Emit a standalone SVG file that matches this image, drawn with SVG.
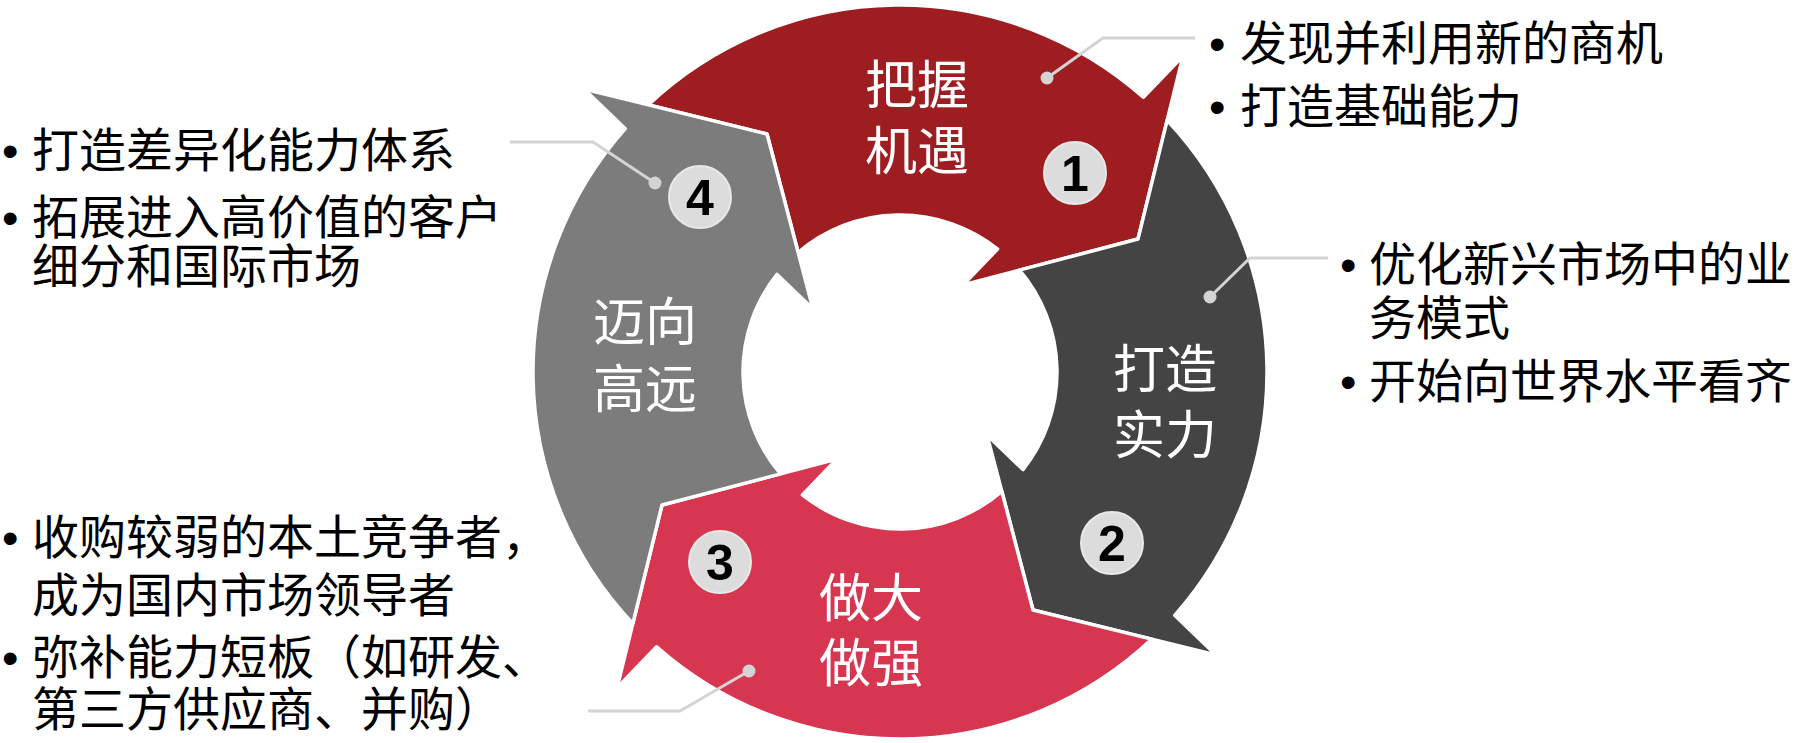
<svg xmlns="http://www.w3.org/2000/svg" width="1800" height="743" viewBox="0 0 1800 743">
<style>
.arw{stroke:#fff;stroke-width:3.5;stroke-linejoin:round}
.c1{fill:#9e1d21}.c2{fill:#444444}.c3{fill:#d73651}.c4{fill:#7c7c7c}
.lbl{font-family:"Noto Sans CJK SC","Noto Sans",sans-serif;font-size:52px;fill:#fff;text-anchor:middle}
.bd{fill:#dcdcdc;stroke:#e8e8e8;stroke-width:2}
.num{font-family:"Liberation Sans",Arial,sans-serif;font-weight:bold;font-size:50px;fill:#000;text-anchor:middle}
.txt{font-family:"Noto Sans CJK SC","Noto Sans",sans-serif;font-size:47px;fill:#000}
.bul{font-family:"Liberation Sans",Arial,sans-serif}
.ld{fill:none;stroke:#d4d4d4;stroke-width:3}
.dot{fill:#d4d4d4}
</style>
<defs>
<path id="arrow" d="M -251.62 -267.17 A 367 367 0 0 1 243.35 -274.72 L 283 -316 L 238 -133 L 63 -87 L 97.58 -122.99 A 157 157 0 0 0 -101.85 -119.48 L -133 -238 Z"/>
</defs>

<g id="node1">
<use href="#arrow" class="arw c1" transform="translate(900 372)"/>
</g>
<g id="node2">
<use href="#arrow" class="arw c2" transform="translate(900 372) rotate(90)"/>
</g>
<g id="node3">
<use href="#arrow" class="arw c3" transform="translate(900 372) rotate(180)"/>
</g>
<g id="node4">
<use href="#arrow" class="arw c4" transform="translate(900 372) rotate(270)"/>
</g>

<g id="connectors">
<polyline class="ld" points="1047,78 1103,38 1195,38"/>
<circle class="dot" cx="1047" cy="78" r="6.5"/>
<polyline class="ld" points="1210,297 1250,258 1328,258"/>
<circle class="dot" cx="1210" cy="297" r="6.5"/>
<polyline class="ld" points="749,671 680,711 588,711"/>
<circle class="dot" cx="749" cy="671" r="6.5"/>
<polyline class="ld" points="655,183 593,142 510,142"/>
<circle class="dot" cx="655" cy="183" r="6.5"/>
</g>

<g id="label1">
<text class="lbl" x="917" y="104">把握</text>
<text class="lbl" x="917" y="170">机遇</text>
<circle class="bd" cx="1075" cy="173" r="31"/>
<text class="num" x="1075" y="191">1</text>
</g>
<g id="label2">
<text class="lbl" x="1165" y="388">打造</text>
<text class="lbl" x="1165" y="454">实力</text>
<circle class="bd" cx="1112" cy="543" r="31"/>
<text class="num" x="1112" y="561">2</text>
</g>
<g id="label3">
<text class="lbl" x="871" y="617">做大</text>
<text class="lbl" x="871" y="682">做强</text>
<circle class="bd" cx="720" cy="562" r="31"/>
<text class="num" x="720" y="580">3</text>
</g>
<g id="label4">
<text class="lbl" x="645" y="341">迈向</text>
<text class="lbl" x="645" y="408">高远</text>
<circle class="bd" cx="700" cy="197" r="31"/>
<text class="num" x="700" y="215">4</text>
</g>

<g id="text1">
<text class="txt" y="60"><tspan class="bul" x="1209">•</tspan><tspan x="1240">发现并利用新的商机</tspan></text>
<text class="txt" y="123"><tspan class="bul" x="1209">•</tspan><tspan x="1240">打造基础能力</tspan></text>
</g>
<g id="text2">
<text class="txt" y="281"><tspan class="bul" x="1340">•</tspan><tspan x="1369">优化新兴市场中的业</tspan></text>
<text class="txt" x="1369" y="335">务模式</text>
<text class="txt" y="398"><tspan class="bul" x="1340">•</tspan><tspan x="1369">开始向世界水平看齐</tspan></text>
</g>
<g id="text4">
<text class="txt" y="167"><tspan class="bul" x="2">•</tspan><tspan x="32">打造差异化能力体系</tspan></text>
<text class="txt" y="234"><tspan class="bul" x="2">•</tspan><tspan x="32">拓展进入高价值的客户</tspan></text>
<text class="txt" x="32" y="283">细分和国际市场</text>
</g>
<g id="text3">
<text class="txt" y="554"><tspan class="bul" x="2">•</tspan><tspan x="32">收购较弱的本土竞争者，</tspan></text>
<text class="txt" x="32" y="612">成为国内市场领导者</text>
<text class="txt" y="674"><tspan class="bul" x="2">•</tspan><tspan x="32">弥补能力短板（如研发、</tspan></text>
<text class="txt" x="32" y="726">第三方供应商、并购）</text>
</g>
</svg>
